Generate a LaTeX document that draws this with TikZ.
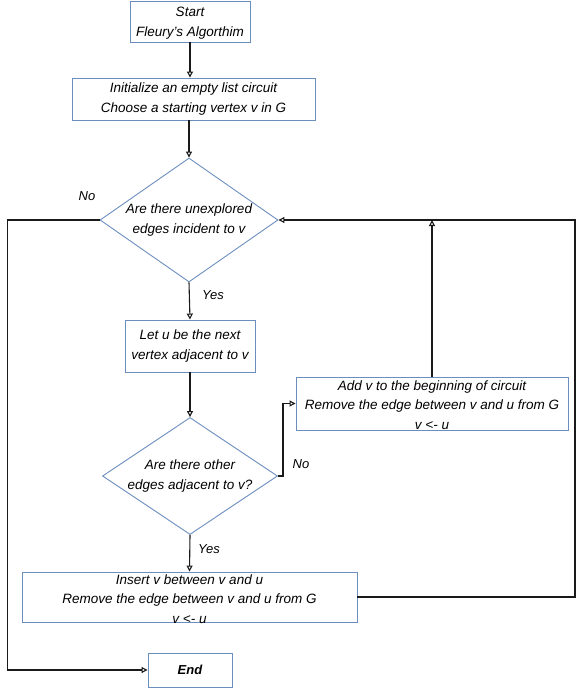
\documentclass[tikz,border=0pt]{standalone}
\usepackage{fontspec}
\setmainfont{Liberation Sans}
\usetikzlibrary{arrows.meta,shapes.geometric}

\definecolor{boxblue}{HTML}{6C8EBF}
\definecolor{linegray}{HTML}{1A1A1A}

\tikzset{
    box/.style={draw=boxblue, line width=0.9pt, rectangle, inner sep=0pt},
    dec/.style={draw=boxblue, line width=0.9pt, diamond, inner sep=0pt},
    txt/.style={align=center, inner sep=0pt, font=\itshape\fontsize{13.5}{19.5}\selectfont},
    lbl/.style={inner sep=0pt, font=\itshape\fontsize{13}{14}\selectfont},
    flow/.style={draw=linegray, line width=1.1pt, -{Triangle[open, length=6pt, width=6pt]}},
    plain/.style={draw=linegray, line width=1.1pt}
}

\begin{document}
\begin{tikzpicture}[x=1pt, y=-1pt]
        \useasboundingbox (0, 0) rectangle (583, 688);

%       boxes and decisions
        \node [box, minimum width=120pt, minimum height=41pt] (start) at (190, 21.5) {};
        \node [box, minimum width=243pt, minimum height=42pt] (init) at (193.5, 99) {};
        \node [dec, minimum width=178pt, minimum height=124pt] (d1) at (189, 220) {};
        \node [box, minimum width=130pt, minimum height=52pt] (letu) at (190, 346) {};
        \node [dec, minimum width=175pt, minimum height=117pt] (d2) at (190, 476) {};
        \node [box, minimum width=272pt, minimum height=53pt] (addv) at (432, 403.5) {};
        \node [box, minimum width=335pt, minimum height=50pt] (insert) at (189.5, 597) {};
        \node [box, minimum width=84pt, minimum height=34pt] (endb) at (190, 670) {};

%       texts
        \node [txt] (starttxt) at (190, 23) {Start\\Fleury's Algorthim};
        \node [txt] (inittxt) at (init) {Initialize an empty list circuit\\Choose a starting vertex v in G};
        \node [txt] (d1txt) at (d1) {Are there unexplored\\edges incident to v};
        \node [txt] (letutxt) at (letu) {Let u be the next\\vertex adjacent to v};
        \node [txt] (d2txt) at (d2) {Are there other\\edges adjacent to v?};
        \node [txt] (addvtxt) at (432, 405) {Add v to the beginning of circuit\\Remove the edge between v and u from G\\v <- u};
        \node [txt] (inserttxt) at (189.5, 599) {Insert v between v and u\\Remove the edge between v and u from G\\v <- u};
        \node [txt, font=\bfseries\itshape\fontsize{13}{14}\selectfont] (endtxt) at (endb) {End};

        \foreach \n/\x/\y/\t in
        {
            no1/87/196/No,
            yes1/213/295/Yes,
            no2/301/464/No,
            yes2/209/549/Yes
        }
        {
            \node [lbl] (\n) at (\x, \y) {\t};
        }

%       connectors
        \coordinate (loop) at (575, 597);
        \coordinate (join) at (addv.north |- d1.east);

        \draw [flow] (start.south) -- (start.south |- init.north);
        \draw [flow] (d1.north |- init.south) -- (d1.north);
        \draw [flow] (d1.south) -- (letu.north);
        \draw [flow] (letu.south) -- (d2.north);
        \draw [flow] (d2.south) -- (insert.north);
        \draw [flow] (d2.east) -- ++(5, 0) |- (addv.west);
        \draw [flow] (addv.north) -- (join);
        \draw [flow] (insert.east) -- (loop) |- (d1.east);
        \draw [flow] (d1.west) -- ++(-92, 0) |- (endb.west);
    \end{tikzpicture}
\end{document}
